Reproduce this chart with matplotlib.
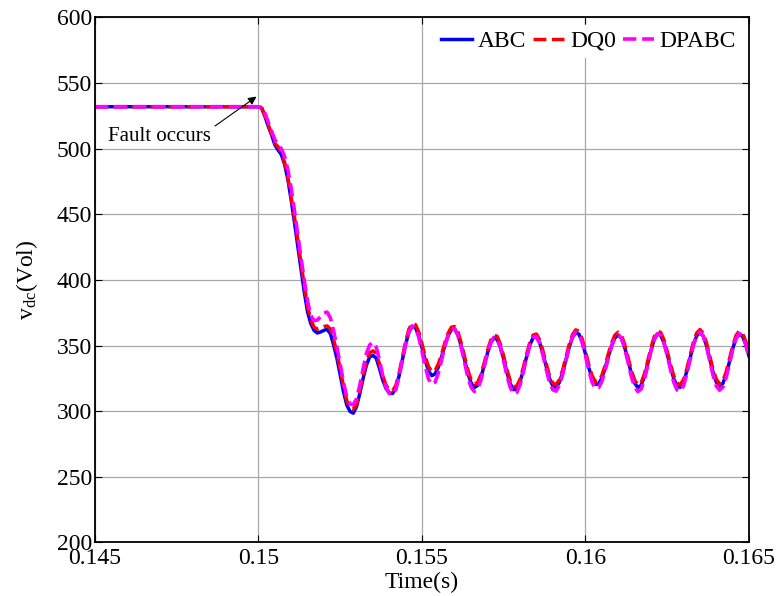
import matplotlib
matplotlib.use("Agg")
import matplotlib.pyplot as plt

# time samples (s); first point is the steady state before the fault
time_s = [0.145,
          0.1500, 0.1501, 0.1502, 0.1503, 0.1504, 0.1505, 0.1506, 0.1507, 0.1508, 0.1509,
          0.1510, 0.1511, 0.1512, 0.1513, 0.1514, 0.1515, 0.1516, 0.1517, 0.1518, 0.1519,
          0.1520, 0.1521, 0.1522, 0.1523, 0.1524, 0.1525, 0.1526, 0.1527, 0.1528, 0.1529,
          0.1530, 0.1531, 0.1532, 0.1533, 0.1534, 0.1535, 0.1536, 0.1537, 0.1538, 0.1539,
          0.1540, 0.1541, 0.1542, 0.1543, 0.1544, 0.1545, 0.1546, 0.1547, 0.1548, 0.1549,
          0.1550, 0.1551, 0.1552, 0.1553, 0.1554, 0.1555, 0.1556, 0.1557, 0.1558, 0.1559,
          0.1560, 0.1561, 0.1562, 0.1563, 0.1564, 0.1565, 0.1566, 0.1567, 0.1568, 0.1569,
          0.1570, 0.1571, 0.1572, 0.1573, 0.1574, 0.1575, 0.1576, 0.1577, 0.1578, 0.1579,
          0.1580, 0.1581, 0.1582, 0.1583, 0.1584, 0.1585, 0.1586, 0.1587, 0.1588, 0.1589,
          0.1590, 0.1591, 0.1592, 0.1593, 0.1594, 0.1595, 0.1596, 0.1597, 0.1598, 0.1599,
          0.1600, 0.1601, 0.1602, 0.1603, 0.1604, 0.1605, 0.1606, 0.1607, 0.1608, 0.1609,
          0.1610, 0.1611, 0.1612, 0.1613, 0.1614, 0.1615, 0.1616, 0.1617, 0.1618, 0.1619,
          0.1620, 0.1621, 0.1622, 0.1623, 0.1624, 0.1625, 0.1626, 0.1627, 0.1628, 0.1629,
          0.1630, 0.1631, 0.1632, 0.1633, 0.1634, 0.1635, 0.1636, 0.1637, 0.1638, 0.1639,
          0.1640, 0.1641, 0.1642, 0.1643, 0.1644, 0.1645, 0.1646, 0.1647, 0.1648, 0.1649,
          0.1650]

vdc_abc = [532,
           532, 530.8, 524.5, 517, 510.6, 503, 499, 495.5, 488, 476.5,
           461, 444, 426, 408.3, 391, 375.8, 366.7, 361.6, 359.6, 360.4,
           361.6, 362.4, 359, 350.3, 340.2, 327.5, 314.9, 304.8, 299.8, 298.5,
           303.6, 313.6, 325, 335, 341.4, 342.5, 340.5, 332.6, 323.7, 317.4,
           314, 313.5, 317.8, 327, 339, 351, 360.2, 364.7, 363.7, 357.7,
           348.5, 338.6, 330.8, 327.1, 328.4, 333.6, 341.5, 350.2, 357.7, 362.2,
           362.6, 358.2, 349.8, 339.4, 329.2, 321.6, 318.1, 319.6, 325.6, 334.6,
           344, 351.9, 355.8, 354.7, 348.8, 339.6, 329.3, 321, 316.4, 317,
           322.4, 331.4, 341.6, 350.6, 356, 356.6, 352.1, 343.9, 334, 324.9,
           319.3, 318.2, 321.9, 329.3, 339, 348.7, 356.1, 359.8, 358.7, 352.8,
           343.6, 333.3, 325, 320.4, 320.8, 325.2, 332.8, 341.7, 350, 355.9,
           358, 355.5, 348.6, 339, 329.2, 321.6, 318.1, 319.7, 326.2, 335.9,
           346, 354.6, 358.8, 357.8, 352.2, 343.5, 333.5, 324.8, 319.2, 318.2,
           322.2, 330.4, 340.6, 350.6, 357.4, 360, 357.3, 350, 340, 329.8,
           322.2, 319, 321.1, 327.8, 337.4, 347.5, 355.3, 358.9, 357.3, 351.2,
           342]

vdc_dq0 = [532,
           532, 531, 525, 518, 511.5, 504, 501.5, 497, 489.5, 478,
           462.5, 448, 431, 413, 396, 380, 369.5, 364, 362.5, 363.5,
           364.5, 365, 362.5, 354.5, 344.5, 332, 319, 308, 302.5, 301.5,
           305.5, 315.5, 327.5, 338, 344.5, 346, 344, 336, 327, 320,
           316, 315.5, 319.5, 329, 341, 353, 362.5, 367, 366, 360.5,
           351.5, 341.5, 334, 330.2, 331, 336, 343.5, 352.2, 359.5, 364,
           364.5, 360.5, 352, 341.8, 331.7, 324, 320.6, 321.8, 327.6, 336.5,
           346, 354, 358, 357, 351, 341.8, 331.5, 323.2, 318.6, 319.2,
           324.4, 333.4, 343.6, 352.6, 358, 358.8, 354.3, 346, 336.2, 327,
           321.4, 320.3, 323.9, 331.3, 341, 350.7, 358.2, 362, 361, 355,
           345.8, 335.5, 327.2, 322.6, 322.8, 327.2, 334.8, 343.8, 352.2, 358,
           360.2, 357.8, 350.8, 341.2, 331.4, 323.8, 320.2, 321.6, 328.2, 337.9,
           348, 356.6, 361, 360, 354.4, 345.7, 335.7, 327, 321.2, 320.2,
           324.2, 332.4, 342.6, 352.6, 359.6, 362.2, 359.5, 352.2, 342.2, 332,
           324.4, 321, 323.1, 329.8, 339.4, 349.5, 357.5, 361.1, 359.5, 353.4,
           344.2]

vdc_dpabc = [532,
             532, 531.5, 527, 520, 513.5, 507, 503, 500, 494, 484,
             470, 453, 435, 417, 400, 384, 373, 369, 369.5, 372,
             375, 375.5, 371, 361, 349, 336, 322, 311, 305.5, 305,
             309.5, 320, 332.5, 344, 350.5, 352.5, 349, 339, 327, 318.5,
             313.5, 312.5, 316.5, 326.5, 339, 351, 360.5, 365, 363.8, 356.5,
             345.5, 334, 324.5, 320.5, 322, 329, 339, 349.5, 357.8, 362.5,
             362.8, 357.8, 348.5, 337.2, 326.2, 318.4, 315, 316.7, 323.5, 333.5,
             343.8, 352.2, 356.3, 355, 348.3, 338, 326.8, 318, 313.4, 314.2,
             320.2, 330, 341, 350.8, 356.6, 357, 352, 342.6, 331.8, 322,
             316.3, 315.3, 319.5, 327.8, 338.3, 348.7, 356.5, 360.3, 359, 352.4,
             342.4, 331.2, 322.2, 317.3, 317.8, 322.6, 330.8, 340.6, 349.6, 356,
             358.4, 355.6, 348, 337.4, 326.6, 318.5, 315, 316.7, 323.8, 334.4,
             345.4, 354.6, 359.1, 358.1, 352, 342.5, 331.6, 322, 316.2, 315.2,
             319.5, 328.4, 339.5, 350.4, 357.7, 360.4, 357.4, 349.4, 338.4, 327.4,
             319.2, 316, 318.2, 325.4, 335.8, 346.8, 355.3, 359.2, 357.4, 350.6,
             341]

x_ticks = [0.145, 0.15, 0.155, 0.16, 0.165]
x_tick_labels = ["0.145", "0.15", "0.155", "0.16", "0.165"]
y_ticks = [200, 250, 300, 350, 400, 450, 500, 550, 600]

# annotation: arrow tail / head and text anchor, in data units
fault_head = (0.14994, 539.7)
fault_tail = (0.14867, 517.3)
fault_text = (0.14540, 509.0)


def main():
    plt.rcParams["font.family"] = ["Liberation Serif", "DejaVu Serif"]
    plt.rcParams["mathtext.fontset"] = "custom"
    plt.rcParams["mathtext.rm"] = "Liberation Serif"
    plt.rcParams["mathtext.it"] = "Liberation Serif:italic"

    fig = plt.figure(figsize=(7.81, 5.96), dpi=100)
    ax = fig.add_axes([0.1216, 0.0898, 0.8374, 0.8809])

    ax.plot(time_s, vdc_abc, color="#0000ff", ls="-", lw=2.5, label="ABC")
    ax.plot(time_s, vdc_dq0, color="#ff0000", ls="--", lw=2.5, label="DQ0")
    ax.plot(time_s, vdc_dpabc, color="#ff00ff", ls="--", lw=2.6, label="DPABC")

    ax.set_xlim(0.145, 0.165)
    ax.set_ylim(200, 600)
    ax.set_xticks(x_ticks)
    ax.set_xticklabels(x_tick_labels)
    ax.set_yticks(y_ticks)
    ax.grid(True, color="#a8a8a8", lw=0.9, ls="-")
    ax.set_axisbelow(True)

    ax.tick_params(direction="in", top=True, right=True, length=5, width=0.8,
                   labelsize=17)
    ax.tick_params(axis="x", pad=4)
    ax.tick_params(axis="y", pad=2)
    for sp in ax.spines.values():
        sp.set_linewidth(1.3)

    ax.set_xlabel("Time(s)", fontsize=17, labelpad=2)
    ax.set_ylabel(r"v$_{\rm dc}$(Vol)", fontsize=17, labelpad=12)

    ax.annotate("", xy=fault_head, xytext=fault_tail,
                arrowprops=dict(arrowstyle="-|>", color="k", lw=0.8,
                                shrinkA=0, shrinkB=0, mutation_scale=12))
    ax.text(fault_text[0], fault_text[1], "Fault occurs", fontsize=15,
            ha="left", va="center")

    leg = ax.legend(loc="upper right", ncol=3, fontsize=17, frameon=True,
                    fancybox=False, framealpha=1, edgecolor="none",
                    handlelength=1.3, handletextpad=0.25, columnspacing=0.3,
                    borderpad=0.25, borderaxespad=0.3)
    leg.get_frame().set_linewidth(0)

    fig.savefig("out.png", dpi=100)


if __name__ == "__main__":
    main()
